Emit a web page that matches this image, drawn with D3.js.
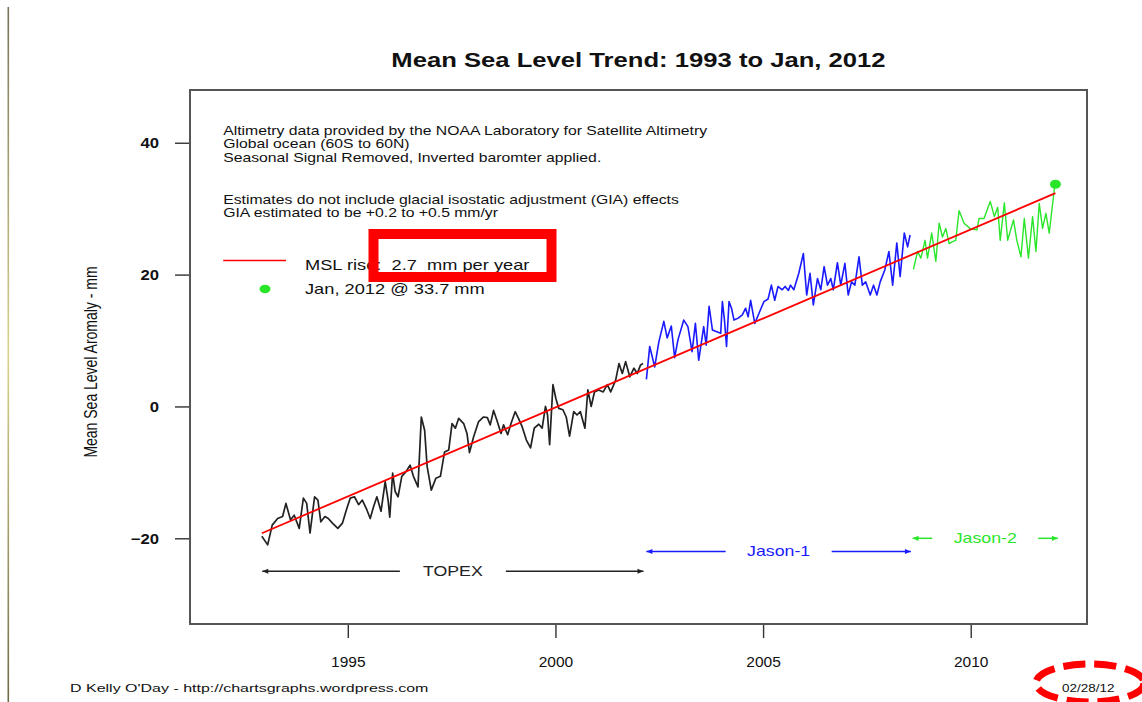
<!DOCTYPE html>
<html>
<head>
<meta charset="utf-8">
<script src="https://cdn.jsdelivr.net/npm/d3@7"></script>
<style>
  html, body { margin: 0; padding: 0; background: #fff; }
  svg { display: block; font-family: "Liberation Sans", Arial, sans-serif; }
</style>
</head>
<body>
<svg id="chart" width="1142" height="702"></svg>
<script>
// ---- Satellite altimetry series (decimal year, mean sea level anomaly in mm) ----
const topexYears = [1992.93,1993.07,1993.18,1993.31,1993.43,1993.51,1993.62,1993.71,1993.83,1993.93,
  1994.01,1994.09,1994.20,1994.28,1994.35,1994.45,1994.53,1994.63,1994.76,1994.87,
  1994.98,1995.06,1995.16,1995.26,1995.35,1995.46,1995.54,1995.62,1995.70,1995.80,
  1995.90,1995.97,1996.01,1996.08,1996.14,1996.21,1996.30,1996.40,1996.50,1996.58,
  1996.69,1996.77,1996.85,1996.91,1997.01,1997.12,1997.23,1997.33,1997.43,1997.51,
  1997.59,1997.67,1997.79,1997.87,1997.93,1998.03,1998.15,1998.27,1998.36,1998.43,
  1998.51,1998.59,1998.69,1998.75,1998.85,1998.93,1999.03,1999.11,1999.20,1999.30,
  1999.40,1999.49,1999.60,1999.68,1999.76,1999.81,1999.86,1999.94,2000.01,2000.08,
  2000.18,2000.26,2000.34,2000.44,2000.52,2000.60,2000.71,2000.78,2000.86,2000.94,
  2001.04,2001.15,2001.25,2001.33,2001.45,2001.53,2001.61,2001.69,2001.79,2001.89,
  2001.97,2002.05,2002.11];
const topexMSL = [-19.7,-21.0,-18.0,-17.0,-16.7,-14.7,-17.2,-16.5,-18.5,-13.9,
  -14.7,-19.2,-13.7,-14.2,-17.5,-16.7,-17.0,-17.7,-18.5,-17.7,
  -15.4,-13.9,-13.7,-14.9,-14.2,-15.7,-17.0,-15.2,-13.7,-15.9,
  -11.4,-14.2,-16.8,-10.1,-12.9,-13.7,-10.6,-9.9,-8.9,-10.6,
  -12.2,-1.6,-3.6,-9.1,-12.7,-10.9,-10.6,-6.9,-6.6,-2.6,
  -3.3,-1.8,-2.6,-4.1,-7.0,-4.6,-2.3,-1.6,-1.7,-2.8,
  -0.6,-2.1,-4.1,-2.8,-4.3,-2.6,-0.8,-1.8,-3.1,-5.1,
  -6.3,-3.3,-2.7,-3.3,0.0,-1.3,-5.8,3.3,1.2,-0.3,
  -0.5,-1.6,-4.5,-0.8,-1.3,-0.8,-3.3,2.5,0.0,2.2,
  2.5,2.2,3.3,2.2,4.0,6.5,5.0,6.8,4.5,5.8,
  5.0,6.3,6.5];

const jason1Years = [2002.19,2002.27,2002.39,2002.49,2002.61,2002.69,2002.79,2002.87,2002.95,2003.09,
  2003.19,2003.29,2003.37,2003.45,2003.57,2003.63,2003.70,2003.78,2003.98,2004.02,
  2004.07,2004.12,2004.18,2004.24,2004.30,2004.40,2004.50,2004.58,2004.64,2004.70,
  2004.80,2004.90,2005.02,2005.12,2005.20,2005.28,2005.36,2005.46,2005.53,2005.61,
  2005.66,2005.74,2005.86,2005.97,2006.05,2006.13,2006.21,2006.31,2006.39,2006.47,
  2006.55,2006.63,2006.69,2006.79,2006.87,2006.97,2007.05,2007.13,2007.21,2007.31,
  2007.39,2007.47,2007.58,2007.66,2007.74,2007.82,2007.93,2008.03,2008.12,2008.22,
  2008.30,2008.40,2008.48,2008.54];
const jason1MSL = [4.1,9.1,6.0,9.8,12.9,10.4,12.2,7.4,10.1,13.1,
  12.1,8.3,12.6,7.0,12.1,9.3,15.2,11.6,11.1,15.9,
  13.1,9.1,15.9,14.9,13.1,13.4,13.9,14.9,13.6,16.1,
  12.6,14.1,15.9,16.3,18.4,16.1,18.2,17.7,18.2,17.6,
  18.4,17.7,20.2,23.2,16.9,20.2,15.4,19.4,17.7,21.2,
  18.4,19.4,17.7,21.8,18.4,21.7,16.9,18.9,18.4,22.7,
  18.4,18.9,16.9,18.4,16.9,18.9,20.7,23.5,18.4,24.8,
  19.7,26.3,24.2,26.0];

const jason2Years = [2008.62,2008.72,2008.80,2008.90,2008.96,2009.06,2009.16,2009.24,2009.32,2009.40,
  2009.48,2009.56,2009.64,2009.72,2009.84,2010.00,2010.15,2010.20,2010.32,2010.47,
  2010.57,2010.65,2010.71,2010.81,2010.89,2011.03,2011.11,2011.21,2011.29,2011.39,
  2011.49,2011.57,2011.65,2011.73,2011.81,2011.89,2012.01,2012.04];
const jason2MSL = [20.8,23.5,22.5,25.2,22.5,26.3,22.0,27.8,25.7,27.0,
  24.7,25.0,25.2,29.7,27.8,26.9,26.8,28.5,28.5,31.1,
  28.8,30.2,25.2,30.9,25.2,28.3,25.2,22.7,28.5,22.5,
  28.8,23.5,30.8,27.0,29.3,26.3,32.8,33.7];

// Linear trend (mm per year) and a point it passes through
const trendRate = 2.7;
const trendAnchor = [2002.5, 6.6];

// Mission periods shown as arrows under the series
const missionNames  = ["TOPEX", "Jason-1", "Jason-2"];
const missionStart  = [1992.94, 2002.19, 2008.60];
const missionEnd    = [2002.12, 2008.56, 2012.10];
const missionLevel  = [-25, -22, -20];

// Axis ticks
const xTicks = [1995, 2000, 2005, 2010];
const yTicks = [-20, 0, 20, 40];

// Text content
const titleText = "Mean Sea Level Trend: 1993 to Jan, 2012";
const noteLines = [
  "Altimetry data provided by the NOAA Laboratory for Satellite Altimetry",
  "Global ocean (60S to 60N)",
  "Seasonal Signal Removed, Inverted baromter applied.",
  "",
  "",
  "Estimates do not include glacial isostatic adjustment (GIA) effects",
  "GIA estimated to be +0.2 to +0.5 mm/yr"
];
const yTitle = "Mean Sea Level Aromaly - mm";
const creditText = "D Kelly O'Day - http://chartsgraphs.wordpress.com";
const dateText = "02/28/12";

// ---- Layout ----
const svg = d3.select("#chart");
const plot = { left: 190, right: 1087, top: 90, bottom: 624 };
const x = d3.scaleLinear().domain([1991.2, 2012.8]).range([plot.left, plot.right]);
const y = d3.scaleLinear().domain([-33, 48]).range([plot.bottom, plot.top]);

const COLORS = { topex: "#222222", jason1: "#1a1aff", jason2: "#2ae62a", trend: "#ff0000", red: "#ff0000" };
const STRETCH = 1.25; // horizontal widening of glyphs

function widen(sel, k = STRETCH) {
  sel.each(function () {
    const L = this.getComputedTextLength();
    d3.select(this).attr("textLength", L * k).attr("lengthAdjust", "spacingAndGlyphs");
  });
  return sel;
}

// Left page rule
const defs = svg.append("defs");
const grad = defs.append("linearGradient").attr("id", "rule").attr("x1", 0).attr("y1", 0).attr("x2", 0).attr("y2", 1);
grad.append("stop").attr("offset", "0%").attr("stop-color", "#77735a");
grad.append("stop").attr("offset", "50%").attr("stop-color", "#d9d28e");
grad.append("stop").attr("offset", "100%").attr("stop-color", "#6e6a45");
svg.append("rect").attr("x", 7.5).attr("y", 7).attr("width", 1.6).attr("height", 695).attr("fill", "url(#rule)");

// Title
widen(svg.append("text")
  .attr("x", (plot.left + plot.right) / 2).attr("y", 67)
  .attr("text-anchor", "middle").attr("font-size", 20.5).attr("font-weight", "bold").attr("fill", "#111")
  .text(titleText));

// Axes
const yAxis = svg.append("g").attr("transform", `translate(${plot.left},0)`)
  .call(d3.axisLeft(y).tickValues(yTicks).tickSize(15).tickPadding(16).tickFormat(d3.format("d")));
yAxis.select(".domain").remove();
yAxis.selectAll(".tick line").attr("stroke", "#333").attr("stroke-width", 1.4);
yAxis.selectAll(".tick text").attr("font-size", 14.5).attr("font-family", "Liberation Sans, Arial, sans-serif")
  .attr("fill", "#111").attr("font-weight", "bold").attr("dy", "0.36em");
widen(yAxis.selectAll(".tick text"), 1.15);

const xAxis = svg.append("g").attr("transform", `translate(0,${plot.bottom})`)
  .call(d3.axisBottom(x).tickValues(xTicks).tickSize(14).tickPadding(18).tickFormat(d3.format("d")));
xAxis.select(".domain").remove();
xAxis.selectAll(".tick line").attr("stroke", "#333").attr("stroke-width", 1.4);
xAxis.selectAll(".tick text").attr("font-size", 15.5).attr("font-family", "Liberation Sans, Arial, sans-serif")
  .attr("fill", "#111");

// Y axis title (rotated, glyphs widened across the baseline)
svg.append("text")
  .attr("transform", `translate(97,362) scale(${STRETCH},1) rotate(-90)`)
  .attr("text-anchor", "middle").attr("font-size", 14).attr("fill", "#111")
  .text(yTitle);

// Notes inside the plot
const noteG = svg.append("g");
noteLines.forEach((t, i) => {
  if (!t) return;
  widen(noteG.append("text").attr("x", x(1992)).attr("y", 134.5 + i * 13.8)
    .attr("font-size", 12.6).attr("fill", "#111").text(t));
});

// Trend line
const line = d3.line().x(d => x(d[0])).y(d => y(d[1]));
const trendAt = yr => trendAnchor[1] + trendRate * (yr - trendAnchor[0]);
const t0 = topexYears[0], t1 = jason2Years[jason2Years.length - 1];

// Series
const series = [
  { yrs: topexYears, vals: topexMSL, color: COLORS.topex, w: 1.7 },
  { yrs: jason1Years, vals: jason1MSL, color: COLORS.jason1, w: 1.6 },
  { yrs: jason2Years, vals: jason2MSL, color: COLORS.jason2, w: 1.4 }
];
series.forEach(s => {
  svg.append("path").datum(s.yrs.map((yr, i) => [yr, s.vals[i]]))
    .attr("d", line).attr("fill", "none").attr("stroke", s.color)
    .attr("stroke-width", s.w).attr("stroke-linejoin", "round");
});

svg.append("path").datum([[t0, trendAt(t0)], [t1, trendAt(t1)]])
  .attr("d", line).attr("fill", "none").attr("stroke", COLORS.trend).attr("stroke-width", 1.8);

// Latest value marker
const lastYr = jason2Years[jason2Years.length - 1], lastVal = jason2MSL[jason2MSL.length - 1];
svg.append("ellipse").attr("cx", x(lastYr)).attr("cy", y(lastVal)).attr("rx", 5.5).attr("ry", 4.6)
  .attr("fill", COLORS.jason2);

// Legend
svg.append("line").attr("x1", x(1992)).attr("x2", 286).attr("y1", 260.5).attr("y2", 260.5)
  .attr("stroke", COLORS.trend).attr("stroke-width", 1.6);
widen(svg.append("text").attr("x", 305).attr("y", 270).attr("font-size", 14.6).attr("fill", "#111")
  .style("white-space", "pre").text(`MSL rise:  ${trendRate.toFixed(1)}  mm per year`));
svg.append("ellipse").attr("cx", 265).attr("cy", 289).attr("rx", 5.5).attr("ry", 4.2).attr("fill", COLORS.jason2);
widen(svg.append("text").attr("x", 305).attr("y", 294).attr("font-size", 14.6).attr("fill", "#111")
  .text(`Jan, 2012 @ ${lastVal.toFixed(1)} mm`));

// Mission period arrows
const missionColors = [COLORS.topex, COLORS.jason1, COLORS.jason2];
const GAP = 53;
function arrow(g, xa, xb, yy, color) {
  g.append("line").attr("x1", xa).attr("x2", xb).attr("y1", yy).attr("y2", yy)
    .attr("stroke", color).attr("stroke-width", 1.5);
  const dir = Math.sign(xb - xa);
  g.append("path")
    .attr("d", `M${xb},${yy} L${xb - dir * 6},${yy - 2.6} L${xb - dir * 6},${yy + 2.6} Z`)
    .attr("fill", color);
}
const missionG = svg.append("g");
missionNames.forEach((name, i) => {
  const xs = x(missionStart[i]), xe = x(missionEnd[i]), yy = y(missionLevel[i]);
  const xm = (xs + xe) / 2;
  arrow(missionG, xm - GAP, xs, yy, missionColors[i]);
  arrow(missionG, xm + GAP, xe, yy, missionColors[i]);
  widen(missionG.append("text").attr("x", xm).attr("y", yy + 5).attr("text-anchor", "middle")
    .attr("font-size", 14.2).attr("fill", missionColors[i]).text(name));
});

// Plot frame
svg.append("rect").attr("x", plot.left).attr("y", plot.top)
  .attr("width", plot.right - plot.left).attr("height", plot.bottom - plot.top)
  .attr("fill", "none").attr("stroke", "#555").attr("stroke-width", 2);

// Footer
widen(svg.append("text").attr("x", 70).attr("y", 692).attr("font-size", 11.5).attr("fill", "#111")
  .text(creditText), 1.39);
widen(svg.append("text").attr("x", 1062).attr("y", 692).attr("font-size", 11.5).attr("fill", "#111")
  .text(dateText), 1.17);

// Highlight callouts
svg.append("rect").attr("x", 373.5).attr("y", 234).attr("width", 178).attr("height", 43)
  .attr("fill", "none").attr("stroke", COLORS.red).attr("stroke-width", 10);
svg.append("ellipse").attr("cx", 1090).attr("cy", 683).attr("rx", 54).attr("ry", 19)
  .attr("fill", "none").attr("stroke", COLORS.red).attr("stroke-width", 7)
  .attr("stroke-dasharray", "22 9");
</script>
</body>
</html>
